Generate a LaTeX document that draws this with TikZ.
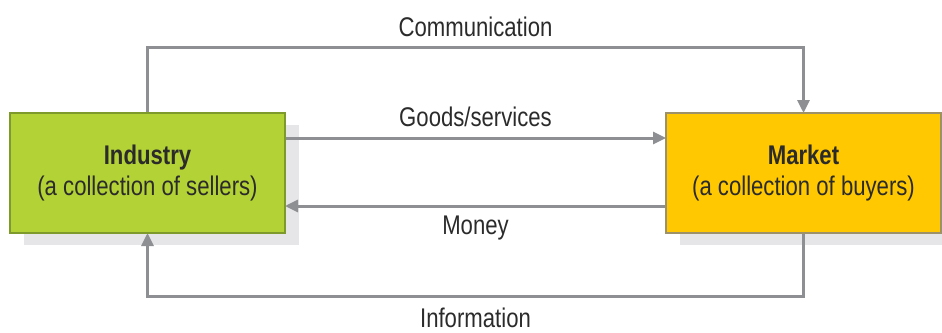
\documentclass[tikz,border=0pt]{standalone}
\usepackage{fontspec}
\setmainfont{Liberation Sans}[FakeStretch=0.82]
\usetikzlibrary{arrows.meta}
\definecolor{indgreen}{HTML}{B3D235}
\definecolor{indedge}{HTML}{7E9A2C}
\definecolor{mktyellow}{HTML}{FFC800}
\definecolor{mktedge}{HTML}{9C9168}
\definecolor{shadowgray}{HTML}{E6E6E8}
\definecolor{linegray}{HTML}{8E8F93}
\definecolor{txt}{HTML}{2B2B2B}
\tikzset{
  box/.style={draw, line width=1.4pt, minimum width=275pt, minimum height=120pt, inner sep=0pt, align=center, text=txt, font=\fontsize{27}{31}\selectfont},
  shadowbox/.style={fill=shadowgray, minimum width=275pt, minimum height=120pt, inner sep=0pt},
  conn/.style={draw=linegray, line width=3pt, -{Triangle[length=13pt,width=12pt]}},
  lbl/.style={text=txt, font=\fontsize{27}{31}\selectfont, inner sep=0pt}
}
\begin{document}
\begin{tikzpicture}[x=1pt,y=-1pt]
\useasboundingbox (0,0) rectangle (942,332);
% shadows
\node[shadowbox] (inds) at (161.5,185) {};
\node[shadowbox] (mkts) at (817.5,185) {};
\path (147.5,173) coordinate (indc) (803.5,173) coordinate (mktc);
\coordinate (indN) at (147.5,113);
\coordinate (indS) at (147.5,233);
\coordinate (indE) at (285,173);
\coordinate (mktN) at (803.5,113);
\coordinate (mktS) at (803.5,233);
\coordinate (mktW) at (666,173);
% connectors
\draw[conn] (indN) -- ++(0,-66) coordinate (topl) -| (mktN);
\draw[conn] ([yshift=35pt]indE) -- ([yshift=35pt]mktW);
\draw[conn] ([yshift=-33pt]mktW) -- ([yshift=-33pt]indE);
\draw[conn] (mktS) -- ++(0,63) coordinate (botr) -| (indS);
% boxes
\node[box, fill=indgreen, draw=indedge] (ind) at (indc) {\textbf{Industry}\\(a collection of sellers)};
\node[box, fill=mktyellow, draw=mktedge] (mkt) at (mktc) {\textbf{Market}\\(a collection of buyers)};
% labels
\node[lbl] (lcomm) at (475.5,27) {Communication};
\node[lbl] (lgoods) at (475.5,117) {Goods/services};
\node[lbl] (lmoney) at (475.5,228) {Money};
\node[lbl] (linfo) at (475.5,318) {Information};
\end{tikzpicture}
\end{document}
